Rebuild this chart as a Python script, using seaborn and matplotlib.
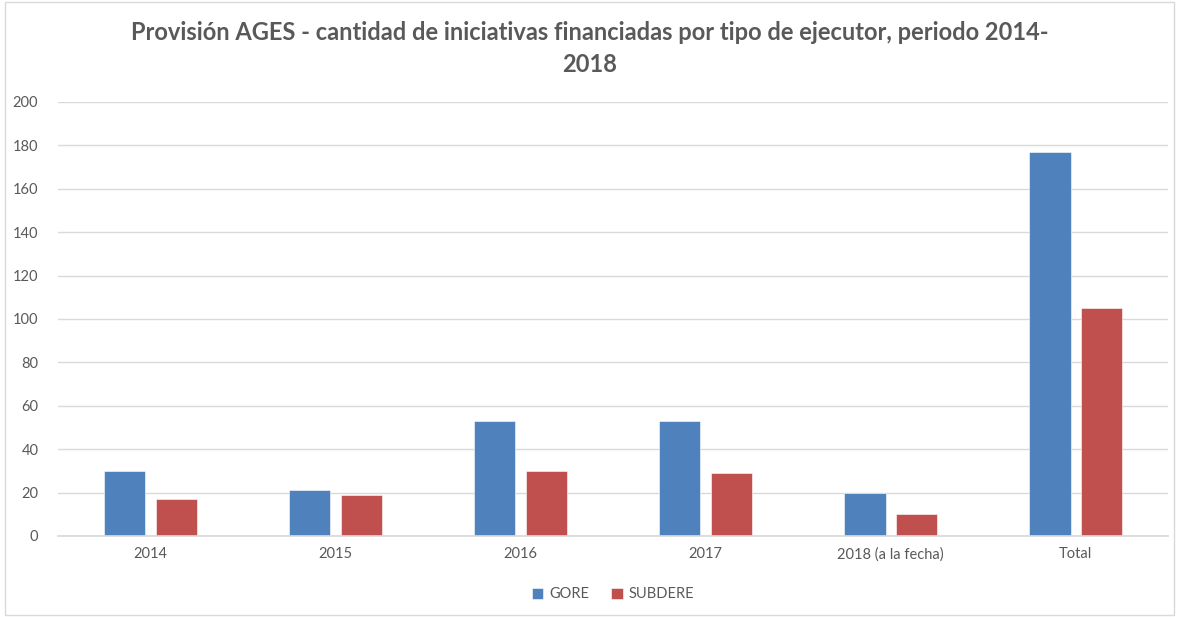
import pandas as pd
import seaborn as sns
import matplotlib.pyplot as plt
from matplotlib.patches import Rectangle

# Data
categories = ["2014", "2015", "2016", "2017", "2018 (a la fecha)", "Total"]
gore = [30, 21, 53, 53, 20, 177]
subdere = [17, 19, 30, 29, 10, 105]

df = pd.DataFrame({"Año": categories, "GORE": gore, "SUBDERE": subdere})
long = df.melt(id_vars="Año", var_name="Ejecutor", value_name="Cantidad")

sns.set_theme(style="white")
plt.rcParams["font.family"] = ["Lato", "DejaVu Sans"]

text_color = "#595959"
grid_color = "#d9d9d9"

fig = plt.figure(figsize=(11.79, 6.17), dpi=100)
ax = fig.add_axes([0.049, 0.1313, 0.942, 0.7034])

sns.barplot(data=long, x="Año", y="Cantidad", hue="Ejecutor",
            palette=["#4F81BD", "#C0504D"], saturation=1, width=0.56, gap=0.2,
            edgecolor="white", linewidth=0.4, ax=ax)

ax.set_ylim(0, 200)
ax.set_yticks(range(0, 201, 20))
ax.yaxis.grid(True, color=grid_color, linewidth=1)
ax.set_axisbelow(True)
for s in ["top", "right", "left"]:
    ax.spines[s].set_visible(False)
ax.spines["bottom"].set_color(grid_color)
ax.tick_params(axis="both", length=0, labelsize=10.5, labelcolor=text_color)
ax.tick_params(axis="y", pad=14)
ax.tick_params(axis="x", pad=8)
ax.set_xlabel("")
ax.set_ylabel("")

ax.legend(loc="upper center", bbox_to_anchor=(0.5, -0.088), ncol=2,
          frameon=False, fontsize=10.5, handlelength=0.8, handleheight=0.8,
          columnspacing=1.5, handletextpad=0.4, labelcolor=text_color)

fig.text(0.5, 0.921,
         "Provisión AGES - cantidad de iniciativas financiadas por tipo de ejecutor, periodo 2014-\n2018",
         ha="center", va="center", fontsize=17, fontweight="bold",
         color=text_color, linespacing=1.5)

fig.patches.append(Rectangle((0.004, 0.003), 0.992, 0.994, transform=fig.transFigure,
                             fill=False, edgecolor=grid_color, linewidth=1))

fig.savefig("out.png", dpi=100)
